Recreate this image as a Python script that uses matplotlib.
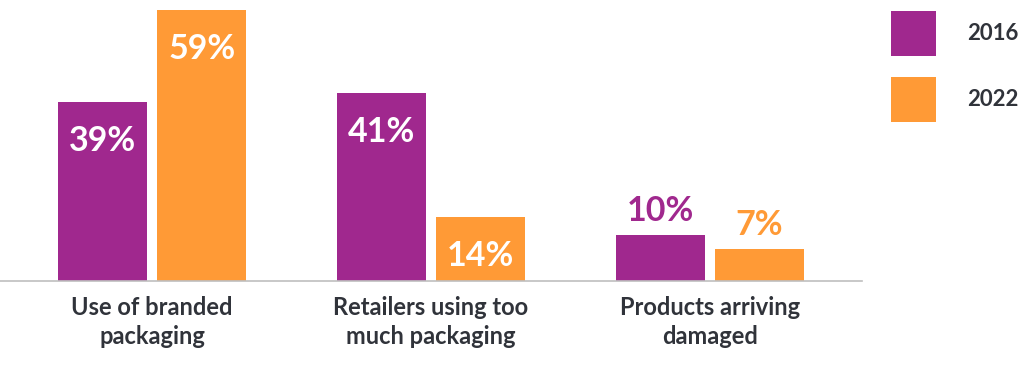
import matplotlib
matplotlib.use("Agg")
import matplotlib.pyplot as plt
import numpy as np

categories = ["Use of branded\npackaging", "Retailers using too\nmuch packaging", "Products arriving\ndamaged"]
series_names = ["2016", "2022"]
values_2016 = [39, 41, 10]
values_2022 = [59, 14, 7]

colors = ["#A0288E", "#FF9A36"]
text_color = "#30333A"
plt.rcParams['font.family'] = ['Lato', 'DejaVu Sans']

fig = plt.figure(figsize=(10.24, 3.82), dpi=100)
ax = fig.add_axes([0.0, 101/382, 862/1024, 281/382])

x = np.arange(len(categories))
w = 0.32
off = 0.178
handles = []
for i, (vals, col) in enumerate(zip([values_2016, values_2022], colors)):
    pos = x + (-off if i == 0 else off)
    bars = ax.bar(pos, vals, width=w, color=col, label=series_names[i])
    handles.append(bars)
    for p, v in zip(pos, vals):
        if v >= 12:
            ax.annotate(f"{v}%", (p, v), xytext=(0, -39), textcoords="offset pixels",
                        ha="center", va="center", color="white", fontsize=24.5, fontweight="bold")
        else:
            ax.annotate(f"{v}%", (p, v), xytext=(0, 24), textcoords="offset pixels",
                        ha="center", va="center", color=col, fontsize=24.5, fontweight="bold")

ax.set_xlim(-0.546, 2.546)
ax.set_ylim(0, 61.2)
for s in ["top", "right", "left"]:
    ax.spines[s].set_visible(False)
ax.spines["bottom"].set_color("#BFBFBF")
ax.spines["bottom"].set_linewidth(1.2)
ax.set_yticks([])
ax.set_xticks(x)
ax.set_xticklabels(categories, fontsize=17, fontweight="bold", color=text_color, linespacing=1.32)
ax.tick_params(axis="x", length=0, pad=10.5)

# legend
fs = 16
leg = fig.legend(handles=handles, labels=series_names,
                 loc="upper left", bbox_to_anchor=(871/1024, 1 + 9/382), frameon=False,
                 handlelength=2.03, handleheight=2.74, labelspacing=0.95, handletextpad=1.4,
                 prop={"family": ["Lato"], "weight": "bold", "size": fs})
for t in leg.get_texts():
    t.set_color(text_color)

fig.savefig("out.png", dpi=100)
